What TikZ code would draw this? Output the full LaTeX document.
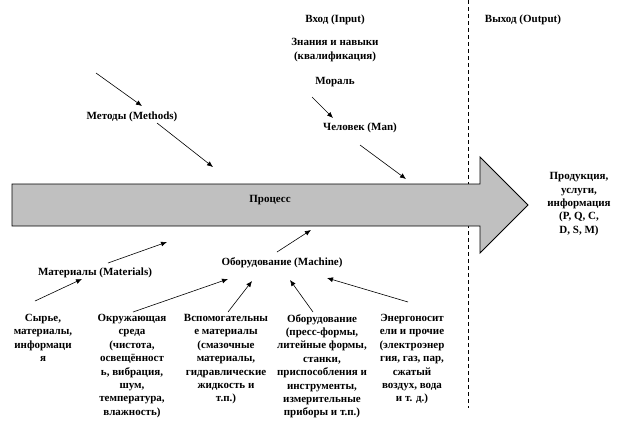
\documentclass[tikz,border=0pt]{standalone}
\usepackage{fontspec}
\setmainfont{Liberation Serif}
\usetikzlibrary{arrows.meta}
\definecolor{procgray}{RGB}{192,192,192}
\tikzset{
  lbl/.style={font=\fontsize{11}{13.4}\selectfont\bfseries, inner sep=0pt, align=center},
  conn/.style={line width=0.6pt, -{Latex[length=6pt,width=5pt]}},
}
\begin{document}
\begin{tikzpicture}[x=1pt,y=-1pt]
\useasboundingbox (0,0) rectangle (627,424);
% dashed separator (behind the process arrow)
\draw[line width=0.8pt, dash pattern=on 4pt off 3pt] (468,0) -- (468,408);
% big process arrow
\draw[fill=procgray, line width=0.9pt] (12,184) -- (480,184) -- (480,157) -- (528,205) -- (480,253) -- (480,226) -- (12,226) -- cycle;
\node[lbl] (proc) at (270,200) {Процесс};
% top labels
\node[lbl] (input) at (335,20) {Вход (Input)};
\node[lbl] (output) at (523,20) {Выход (Output)};
\node[lbl] (skills) at (335,50) {Знания и навыки\\(квалификация)};
\node[lbl] (moral) at (335,82) {Мораль};
\node[lbl] (man) at (360,128) {Человек (Man)};
\node[lbl] (methods) at (132,117) {Методы (Methods)};
\node[lbl] (product) at (579,204) {Продукция,\\услуги,\\информация\\(P, Q, C,\\D, S, M)};
% middle labels
\node[lbl] (materials) at (95,273) {Материалы (Materials)};
\node[lbl] (machine) at (282,263) {Оборудование (Machine)};
% bottom boxes
\node[lbl, anchor=north] (raw) at (43,314) {Сырье,\\материалы,\\информаци\\я};
\node[lbl, anchor=north] (env) at (132,314) {Окружающая\\среда\\(чистота,\\освещённост\\ь, вибрация,\\шум,\\температура,\\влажность)};
\node[lbl, anchor=north] (aux) at (226,314) {Вспомогательны\\е материалы\\(смазочные\\материалы,\\гидравлические\\жидкость и\\т.п.)};
\node[lbl, anchor=north] (equip) at (322,314) {Оборудование\\(пресс-формы,\\литейные формы,\\станки,\\приспособления и\\инструменты,\\измерительные\\приборы и т.п.)};
\node[lbl, anchor=north] (energy) at (412,314) {Энергоносит\\ели и прочие\\(электроэнер\\гия, газ, пар,\\сжатый\\воздух, вода\\и т. д.)};
% connector end points
\coordinate (mA) at (96,73);
\coordinate (mB) at (142,106);
\coordinate (mC) at (157,123);
\coordinate (mD) at (213,167);
\coordinate (hA) at (312,97);
\coordinate (hB) at (333,118);
\coordinate (hC) at (360,145);
\coordinate (hD) at (406,179);
\coordinate (tA) at (35,301);
\coordinate (tB) at (82,279);
\coordinate (tC) at (108,263);
\coordinate (tD) at (167,242);
\coordinate (qA) at (277,252);
\coordinate (qB) at (311,230);
\coordinate (e1) at (133,312);
\coordinate (e1t) at (228,279);
\coordinate (e2) at (228,312);
\coordinate (e2t) at (252,281);
\coordinate (e3) at (313,312);
\coordinate (e3t) at (290,280);
\coordinate (e4) at (408,302);
\coordinate (e4t) at (327,278);
% connectors
\draw[conn] (mA) -- (mB);
\draw[conn] (mC) -- (mD);
\draw[conn] (hA) -- (hB);
\draw[conn] (hC) -- (hD);
\draw[conn] (tA) -- (tB);
\draw[conn] (tC) -- (tD);
\draw[conn] (qA) -- (qB);
\draw[conn] (e1) -- (e1t);
\draw[conn] (e2) -- (e2t);
\draw[conn] (e3) -- (e3t);
\draw[conn] (e4) -- (e4t);
\end{tikzpicture}
\end{document}
